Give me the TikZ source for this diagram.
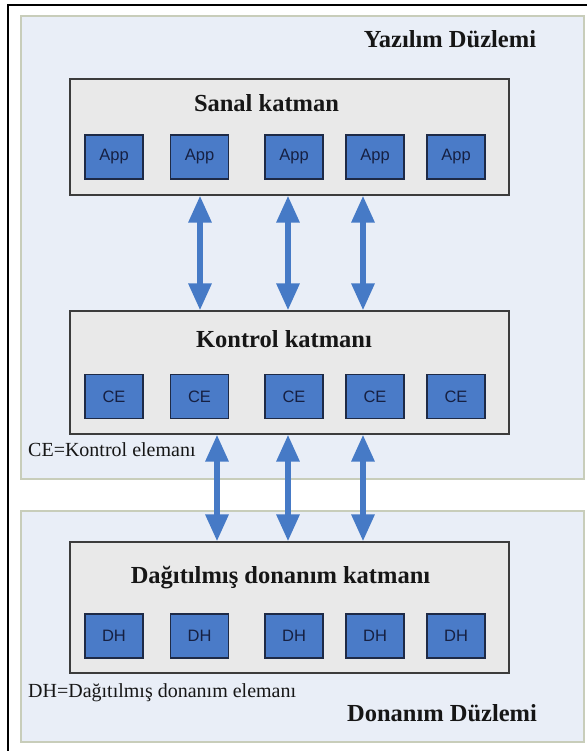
\documentclass[tikz,border=0pt]{standalone}
\usepackage{fontspec}
\setmainfont{Liberation Serif}
\newfontfamily\titlefont{Liberation Serif}
\newfontfamily\elemfont{Liberation Sans}
\usepackage{tikz}
\usetikzlibrary{arrows.meta}
\usepackage{xcolor}
\definecolor{panelfill}{RGB}{233,238,247}
\definecolor{panelline}{RGB}{200,205,186}
\definecolor{layerfill}{RGB}{233,233,233}
\definecolor{layerline}{RGB}{60,60,60}
\definecolor{elemfill}{RGB}{74,123,200}
\definecolor{elemline}{RGB}{30,42,70}
\definecolor{elemtext}{RGB}{22,32,66}
\definecolor{arrowblue}{RGB}{70,122,198}
\definecolor{textblack}{RGB}{22,22,22}

\begin{document}
\begin{tikzpicture}[x=1pt,y=-1pt,
  panel/.style={draw=panelline, fill=panelfill, line width=1.2pt},
  layer/.style={draw=layerline, fill=layerfill, line width=1.2pt, minimum width=439pt},
  elem/.style={draw=elemline, fill=elemfill, line width=1.2pt, minimum width=58pt, minimum height=44pt, inner sep=0pt, font=\elemfont\fontsize{16.5}{17}\selectfont, text=elemtext},
  title/.style={font=\titlefont\bfseries\fontsize{24.5}{25}\selectfont, text=textblack, inner sep=0pt, anchor=base},
  legend/.style={font=\titlefont\fontsize{20}{20}\selectfont, text=textblack, inner sep=0pt, anchor=base west},
  biarrow/.style={{Triangle[width=22pt,length=27pt]}-{Triangle[width=22pt,length=27pt]}, line width=6pt, arrowblue}]
\useasboundingbox (0,0) rectangle (587,751);

% two planes
\node[panel, minimum width=563pt, minimum height=463pt] (yazilim) at (302.5,247.5) {};
\node[panel, minimum width=563pt, minimum height=231pt] (donanim) at (302.5,626.5) {};
\draw[line width=2.5pt, black] (8,751) -- (8,5) -- (587,5);

% layers
\node[layer, minimum height=116pt] (sanal) at (289.5,137) {};
\node[layer, minimum height=123pt] (kontrol) at (289.5,372.5) {};
\node[layer, minimum height=131pt] (dagitik) at (289.5,607.5) {};

% elements
\foreach \x [count=\i] in {114,199.5,294,375,456} {
  \node[elem] (app\i) at (\x,157) {App};
  \node[elem] (ce\i) at (\x,396.5) {CE};
  \node[elem] (dh\i) at (\x,636) {DH};
}

% arrows between layers
\coordinate (u1) at (200,0);
\coordinate (u2) at (288,0);
\coordinate (u3) at (363,0);
\coordinate (l1) at (217,0);
\coordinate (l2) at (288,0);
\coordinate (l3) at (363,0);
\foreach \c in {u1,u2,u3}
  \draw[biarrow] (sanal.south -| \c) -- (kontrol.north -| \c);
\foreach \c in {l1,l2,l3}
  \draw[biarrow] (kontrol.south -| \c) -- (dagitik.north -| \c);

% texts
\node[title] (yazilimtitle) at (450,48) {Yazılım Düzlemi};
\node[title] (sanaltitle) at (266.5,112) {Sanal katman};
\node[title] (kontroltitle) at (284,347) {Kontrol katmanı};
\node[title] (dagitiktitle) at (280.5,583) {Dağıtılmış donanım katmanı};
\node[title] (donanimtitle) at (442,721) {Donanım Düzlemi};
\node[legend] (celegend) at (28,456) {CE=Kontrol elemanı};
\node[legend] (dhlegend) at (28,697) {DH=Dağıtılmış donanım elemanı};
\end{tikzpicture}
\end{document}
